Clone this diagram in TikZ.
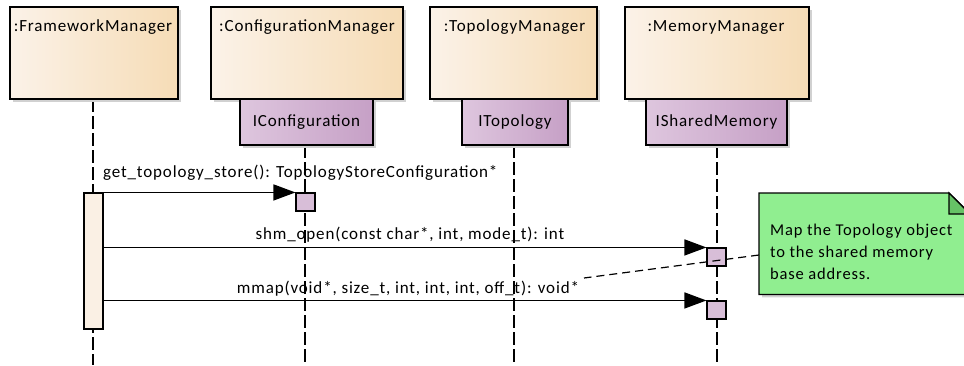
\documentclass[tikz,border=0pt]{standalone}
\usepackage{fontspec}
\setmainfont{Carlito}
\newfontfamily\diafont[LetterSpace=5]{Carlito}
\usetikzlibrary{arrows.meta,shadows,positioning}

\definecolor{headL}{HTML}{FBF2E8}
\definecolor{headR}{HTML}{F6DCB6}
\definecolor{ifaceL}{HTML}{DEC6DE}
\definecolor{ifaceR}{HTML}{C6A0C6}
\definecolor{actfill}{HTML}{D8BED8}
\definecolor{barfill}{HTML}{FAF0E4}
\definecolor{notefill}{HTML}{90EE90}
\definecolor{foldfill}{HTML}{66C266}

\tikzset{
  shad/.style={drop shadow={shadow xshift=3pt, shadow yshift=-3pt, fill=black!18, opacity=1}},
  head/.style={draw, line width=1.3pt, shad, left color=headL, right color=headR, minimum height=92pt},
  iface/.style={draw, line width=1.3pt, shad, left color=ifaceL, right color=ifaceR, minimum height=46pt, font=\diafont\fontsize{17}{20}\selectfont},
  actbox/.style={draw, line width=1.1pt, fill=actfill, minimum width=19pt, minimum height=18pt, inner sep=0pt},
  lifeline/.style={line width=1.2pt, dash pattern=on 13pt off 4pt},
  msg/.style={line width=1.4pt, -{Triangle[length=22pt,width=16pt]}},
  lbl/.style={font=\diafont\fontsize{17}{20}\selectfont, inner sep=0pt},
}

\begin{document}
\begin{tikzpicture}[x=1pt, y=-1pt]
  \useasboundingbox (0,0) rectangle (964,365);
  \clip (0,0) rectangle (964,365);

  % lifelines
  \coordinate (fmtop) at (93,99);   \coordinate (fmbot) at (93,365);
  \coordinate (cmtop) at (305,145); \coordinate (cmbot) at (305,365);
  \coordinate (tmtop) at (514,145); \coordinate (tmbot) at (514,365);
  \coordinate (mmtop) at (717,145); \coordinate (mmbot) at (717,365);
  \draw [lifeline] (fmtop) -- (fmbot);
  \draw [lifeline] (cmtop) -- (cmbot);
  \draw [lifeline] (tmtop) -- (tmbot);
  \draw [lifeline] (mmtop) -- (mmbot);

  % objects
  \node [head, minimum width=168pt] (fm) at (94,53) {};
  \node [head, minimum width=192pt] (cm) at (307,53) {};
  \node [head, minimum width=167pt] (tm) at (513.5,53) {};
  \node [head, minimum width=184pt] (mm) at (717,53) {};
  \node [lbl, anchor=base] (fmt) at (93,31) {:FrameworkManager};
  \node [lbl, anchor=base] (cmt) at (307,31) {:ConfigurationManager};
  \node [lbl, anchor=base] (tmt) at (514.5,31) {:TopologyManager};
  \node [lbl, anchor=base] (mmt) at (716,31) {:MemoryManager};

  % interfaces
  \node [iface, minimum width=133pt] (ic) at (306.5,122) {IConfiguration};
  \node [iface, minimum width=106pt] (it) at (515,122) {ITopology};
  \node [iface, minimum width=141pt] (ism) at (716.5,122) {ISharedMemory};

  % activations
  \node [actbox, fill=barfill, minimum height=136pt] (fb) at (93.5,261) {};
  \node [actbox] (cb) at (305.5,202) {};
  \node [actbox] (mb1) at (716.5,257) {};
  \node [actbox] (mb2) at (716.5,310) {};

  % messages
  \draw [msg] (fb.north east) -- (cb.north west);
  \node [lbl, anchor=base west] (m1) at (103,177) {get\_topology\_store(): TopologyStoreConfiguration*};
  \draw [msg] (fb.east |- mb1.north west) -- (mb1.north west);
  \node [lbl, anchor=base] (m2) at (410,239) {shm\_open(const char*, int, mode\_t): int};
  \draw [msg] (fb.east |- mb2.north west) -- (mb2.north west);
  \node [lbl, anchor=base] (m3) at (408,293) {mmap(void*, size\_t, int, int, int, off\_t): void*};

  % note
  \node [minimum width=211pt, minimum height=101pt, anchor=north west, inner sep=0pt] (note) at (759,193) {};
  \fill [black!18] ([shift={(3,3)}]note.north west) -- ++(190,0) -- ++(21,21) |- ([shift={(3,3)}]note.south west) -- cycle;
  \draw [line width=1.3pt, fill=notefill] (note.north west) -- ++(190,0) -- (note.north east |- 0,214) -- (note.south east) -- (note.south west) -- cycle;
  \draw [line width=1.1pt, fill=foldfill] (949,193) -- (949,214) -- (970,214) -- cycle;
  \node [inner sep=0pt, anchor=north west, align=left, font=\diafont\fontsize{16.5}{22}\selectfont] (notet) at (770,224) {Map the Topology object\\to the shared memory\\base address.};

  % note link
  \coordinate (na) at (759,255);
  \coordinate (nb) at (584,278);
  \draw [line width=1.2pt, dash pattern=on 8pt off 5pt] (na) -- (nb);
\end{tikzpicture}
\end{document}
